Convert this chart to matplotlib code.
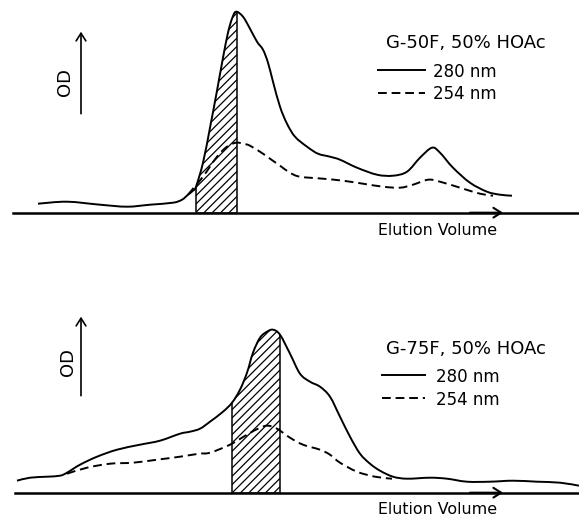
import numpy as np
import matplotlib
matplotlib.use("Agg")
import matplotlib.pyplot as plt
from matplotlib.path import Path
from matplotlib.patches import PathPatch, Rectangle

# G-50F, 50% HOAc panel: elution volume (arb.) vs OD above baseline (arb.)
g50_vol_280 = [38, 67, 100, 127, 150, 173, 182, 188, 193, 196, 203, 210, 217, 223, 228, 232, 236, 243, 250, 257,
               263, 268, 273, 280, 287, 295, 307, 318, 330, 340, 357, 377, 393, 407, 420, 432, 440, 453, 470, 487,
               500, 512]
g50_od_280 = [9, 11, 8, 6, 8, 10, 13, 18, 22, 26, 50, 85, 122, 155, 180, 194, 201, 196, 184, 171,
              163, 150, 131, 106, 89, 76, 66, 59, 56, 53, 45, 38, 37, 41, 55, 65, 60, 45, 30, 21,
              18, 17]
g50_vol_254 = [188, 193, 203, 217, 227, 236, 243, 250, 263, 270, 280, 290, 300, 323, 343, 363, 383, 400, 413, 428,
               440, 460, 480, 493]
g50_od_254 = [18, 24, 36, 56, 66, 70, 69, 67, 59, 54, 47, 40, 36, 34, 32, 29, 26, 25, 28, 33,
              31, 25, 19, 17]
g50_cut = [196, 237]

# G-75F, 50% HOAc panel
g75_vol_280 = [17, 30, 47, 60, 67, 80, 97, 117, 140, 160, 180, 190, 200, 210, 223, 232, 240, 247, 253, 260,
               267, 273, 280, 290, 300, 310, 320, 330, 340, 350, 360, 370, 380, 393, 407, 430, 447, 467, 490, 513,
               537, 560, 579]
g75_od_280 = [12, 15, 16, 17, 20, 28, 36, 43, 48, 52, 59, 61, 64, 71, 81, 90, 103, 120, 140, 155,
              161, 163, 158, 139, 119, 111, 106, 96, 76, 56, 39, 29, 22, 16, 14, 15, 14, 11, 11, 12,
              11, 10, 7]
g75_vol_254 = [67, 87, 110, 133, 157, 180, 199, 210, 230, 247, 260, 268, 277, 290, 303, 320, 330, 340, 357, 375,
               392]
g75_od_254 = [19, 25, 29, 30, 33, 36, 39, 40, 48, 58, 65, 67, 64, 55, 48, 43, 38, 30, 21, 16,
              14]
g75_cut = [232, 280]

titles = ["G-50F, 50% HOAc", "G-75F, 50% HOAc"]
legend_labels = ["280 nm", "254 nm"]

LW = 1.4
DASH = (0, (4.5, 2.5))
plt.rcParams["hatch.linewidth"] = 0.9
plt.rcParams["font.family"] = ["DejaVu Sans"]


def smooth_path(xs, ys):
    # Catmull-Rom through the read points, drawn as cubic Bezier segments
    pts = np.column_stack([xs, ys]).astype(float)
    n = len(pts)
    verts = [pts[0]]
    codes = [Path.MOVETO]
    for i in range(n - 1):
        p0 = pts[max(i - 1, 0)]
        p1 = pts[i]
        p2 = pts[i + 1]
        p3 = pts[min(i + 2, n - 1)]
        verts += [p1 + (p2 - p0) / 6, p2 - (p3 - p1) / 6, p2]
        codes += [Path.CURVE4] * 3
    return verts, codes


fig = plt.figure(figsize=(5.79, 5.16), dpi=100)
ax_top = fig.add_axes([0, 0.5, 1, 0.5])
ax_bot = fig.add_axes([0, 0.0, 1, 0.5])

panels = [
    dict(ax=ax_top, v280=g50_vol_280, o280=g50_od_280, v254=g50_vol_254, o254=g50_od_254, cut=g50_cut,
         ylim=(-45.3, 212.7), x0=13, od_x=65, od_y=131, od_top=181, od_bot=99,
         title_y=164.7, leg_y=[142.7, 119.7], leg_text_y=[136, 113.4], leg_x=(378, 425), leg_tx=433,
         ev_y=-22.3, title=titles[0]),
    dict(ax=ax_bot, v280=g75_vol_280, o280=g75_od_280, v254=g75_vol_254, o254=g75_od_254, cut=g75_cut,
         ylim=(-23.3, 234.7), x0=15, od_x=67.5, od_y=131, od_top=176, od_bot=97,
         title_y=138.7, leg_y=[117.7, 94.7], leg_text_y=[111, 87.7], leg_x=(382, 425), leg_tx=436,
         ev_y=-21.5, title=titles[1]),
]

for p in panels:
    ax = p["ax"]
    ax.set_xlim(0, 579)
    ax.set_ylim(*p["ylim"])
    ax.axis("off")

    v280 = p["v280"]
    o280 = p["o280"]

    verts, codes = smooth_path(v280, o280)
    ax.add_patch(PathPatch(Path(verts, codes), fill=False, edgecolor="black", lw=LW))

    # region under the 280 nm trace, used to clip the hatched fraction
    area = PathPatch(Path(verts + [(v280[-1], 0), (v280[0], 0), (v280[0], 0)],
                          codes + [Path.LINETO, Path.LINETO, Path.CLOSEPOLY]),
                     transform=ax.transData, facecolor="none", edgecolor="none")
    ax.add_patch(area)
    lo, hi = p["cut"]
    rect = Rectangle((lo, 0), hi - lo, max(o280) + 20, facecolor="none", edgecolor="black",
                     hatch="////", lw=1.1)
    ax.add_patch(rect)
    rect.set_clip_path(area)

    v2, c2 = smooth_path(p["v254"], p["o254"])
    ax.add_patch(PathPatch(Path(v2, c2), fill=False, edgecolor="black", lw=LW, linestyle=DASH))

    # elution axis with open arrow head
    ax.plot([p["x0"], 579], [0, 0], color="black", lw=1.8)
    ax.annotate("", xy=(503, 0), xytext=(470, 0),
                arrowprops=dict(arrowstyle="->,head_length=0.55,head_width=0.35", lw=1.5, color="black",
                                mutation_scale=10, shrinkA=0, shrinkB=0))
    ax.text(438, p["ev_y"], "Elution Volume", fontsize=11.4, ha="center", va="baseline")

    # OD arrow
    ax.annotate("", xy=(81, p["od_top"]), xytext=(81, p["od_bot"]),
                arrowprops=dict(arrowstyle="->,head_length=0.55,head_width=0.35", lw=1.2, color="black",
                                mutation_scale=10, shrinkA=0, shrinkB=0))
    ax.text(p["od_x"], p["od_y"], "OD", fontsize=13, rotation=90, ha="center", va="center")

    # title and key
    ax.text(466, p["title_y"], p["title"], fontsize=13, ha="center", va="baseline")
    for i, lab in enumerate(legend_labels):
        ax.plot(p["leg_x"], [p["leg_y"][i]] * 2, color="black", lw=LW, ls="-" if i == 0 else DASH)
        ax.text(p["leg_tx"], p["leg_text_y"][i], lab, fontsize=12, ha="left", va="baseline")

fig.savefig("out.png", dpi=100, facecolor="white")
